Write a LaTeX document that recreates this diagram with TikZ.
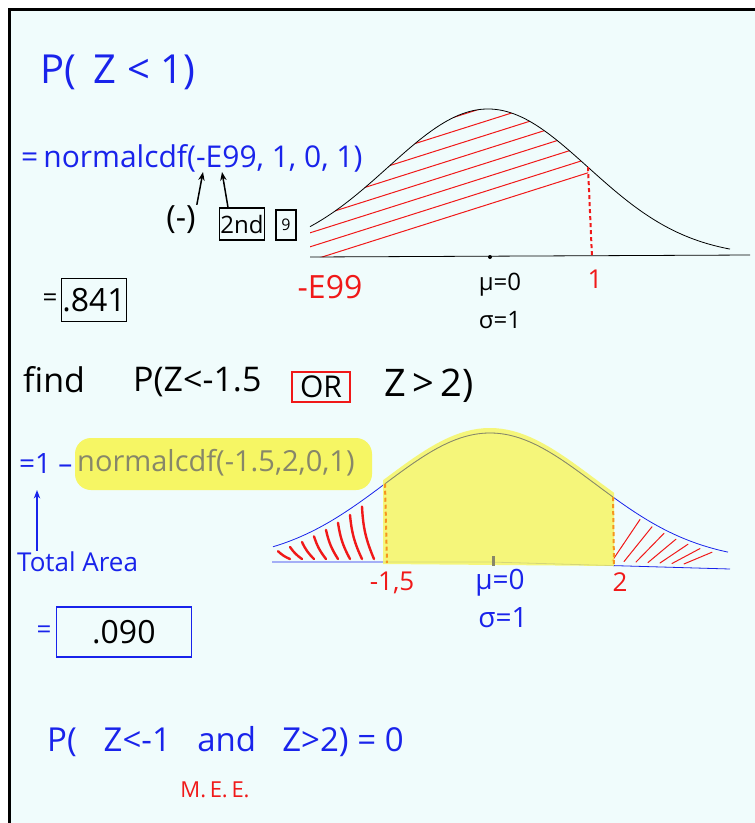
\documentclass[tikz,border=0pt]{standalone}
\usepackage{fontspec}
\setmainfont{Open Sans}
\usetikzlibrary{arrows.meta,positioning}
\definecolor{pen}{RGB}{25,35,235}
\definecolor{redpen}{RGB}{240,25,25}
\definecolor{paper}{RGB}{240,252,252}
\definecolor{marker}{RGB}{246,246,100}
\definecolor{grayink}{RGB}{135,135,105}
\definecolor{orangepen}{RGB}{245,150,30}
\tikzset{
  >={Stealth[length=3mm]},
  hw/.style={inner sep=1pt,font=\fontsize{#1}{#1}\selectfont},
  hw/.default=26,
  key/.style={draw,line width=1.4pt,inner sep=3pt},
  hatch/.style={draw=redpen,line width=#1,line cap=round},
  hatch/.default=1pt,
  cut/.style={draw=#1,line width=2pt,dash pattern=on 4pt off 3pt},
}
% bell curves (pixel units)
\pgfmathdeclarefunction{bellA}{1}{\pgfmathparse{257-148*exp(-((#1-488)/100)*((#1-488)/100)/2)}}
\pgfmathdeclarefunction{bellB}{1}{\pgfmathparse{562-129*exp(-((#1-490)/105)*((#1-490)/105)/2)}}

\begin{document}
\begin{tikzpicture}[x=1pt,y=-1pt]
  \useasboundingbox (0,0) rectangle (755,823);
  \fill[white] (0,0) rectangle (755,823);
  \fill[paper] (9,9) rectangle (755,823);
  \draw[line width=3pt] (9.5,823) -- (9.5,9.5) -- (755,9.5);

  % P(Z<1)
  \node[hw=40,text=pen] (pz) at (118,72) {P(\, Z < 1)};
  \node[hw=30,text=pen,anchor=west] (cdf1) at (20,158) {=\,normalcdf(-E99, 1, 0, 1)};
  \coordinate (negkey) at (203,172);
  \coordinate (ekey) at (222,172);
  \node[hw=32] (neg) at (181,220) {(-)};
  \node[key,hw=24,minimum height=32pt] (second) at (242,224) {2nd};
  \node[key,hw=16,minimum width=20pt,minimum height=30pt] (nine) at (286,225) {9};
  \draw[->,line width=1.5pt] (neg.north east) -- (negkey);
  \draw[->,line width=1.5pt] ([xshift=-14pt]second.north) -- (ekey);
  \node[hw=26] (eq1) at (50,300) {=};
  \node[key,hw=32,minimum height=43pt,right=2pt of eq1] (ans1) {.841};

  \begin{scope}
    \clip (310,257) -- plot[domain=310:588,samples=50] (\x,{bellA(\x)}) -- (588,257) -- cycle;
    \foreach \k in {0,...,17} \draw[hatch] (300,{264-\k*14}) -- (600,{264-\k*14-95});
  \end{scope}
  \draw[thick] plot[domain=310:730,samples=80,smooth] (\x,{bellA(\x)});
  \draw[thick] (310,257) -- (750,255);
  \draw[cut=redpen] (588,{bellA(588)}) -- (592,257);
  \fill (490,257) circle (2pt);
  \node[hw=32,text=redpen] (lo1) at (330,287) {-E99};
  \node[hw=24] (mu1) at (500,285) {μ=0};
  \node[hw=24] (sd1) at (500,320) {σ=1};
  \node[hw=26,text=redpen] (hi1) at (595,279) {1};

  % P(Z<-1.5 OR Z>2)
  \node[hw=34,anchor=west] (find) at (22,380) {find};
  \node[hw=34,anchor=west] (pz2) at (132,382) {P(Z<-1.5};
  \node[draw=redpen,line width=1.5pt,hw=30,inner sep=4pt,minimum width=58pt] (orbox) at (321,387) {OR};
  \node[hw=38,anchor=west] (zz2) at (383,386) {Z\,>\,2)};
  \fill[marker,rounded corners=16pt] (75,438) rectangle (372,490);
  \node[hw=28,text=pen,anchor=west] (one) at (18,463) {=1 –};
  \node[hw=29,text=grayink,anchor=west] (cdf2) at (76,463) {normalcdf(-1.5,2,0,1)};
  \node[hw=26,text=pen,anchor=west] (tot) at (16,562) {Total Area};
  \coordinate (onefoot) at (37,490);
  \draw[->,pen,line width=1.5pt] (tot.north -| onefoot) -- (onefoot);
  \node[hw=26,text=pen] (eq2) at (44,632) {=};
  \node[draw=pen,line width=1.5pt,hw=32,minimum width=135pt,minimum height=50pt,right=3pt of eq2] (ans2) {.090};

  \foreach \x in {278,290,...,370} \draw[hatch=2.4pt] ({\x},{bellB(\x)+6}) to[bend right=10] ({\x+12},559);
  \foreach \x in {640,652,...,712} \draw[hatch] ({\x-28},{560+(\x-613)*0.04}) -- ({\x},{bellB(\x)+4});
  \draw[pen,thick] plot[domain=273:728,samples=80,smooth] (\x,{bellB(\x)});
  \draw[pen,thick] (272,562) -- (490,562) -- (730,569);
  \fill[marker,opacity=0.85] (383,564) -- plot[domain=383:614,samples=40] (\x,{bellB(\x)-5}) -- (614,566) -- cycle;
  \draw[grayink,thick] plot[domain=385:613,samples=40,smooth] (\x,{bellB(\x)});
  \draw[cut=orangepen] (385,{bellB(385)}) -- (387,563);
  \draw[cut=orangepen] (613,{bellB(613)}) -- (614,565);
  \draw[grayink,line width=3pt] (493,556) -- (493,566);
  \node[hw=26,text=redpen] (lo2) at (392,583) {-1,5};
  \node[hw=28,text=pen] (mu2) at (500,583) {μ=0};
  \node[hw=28,text=pen] (sd2) at (503,618) {σ=1};
  \node[hw=26,text=redpen] (hi2) at (620,582) {2};

  % mutually exclusive
  \node[hw=33,text=pen,anchor=west] (pand) at (46,742) {P(\;\; Z<-1 \; and \; Z>2) = 0};
  \node[hw=22,text=redpen] (mee) at (215,790) {M.\,E.\,E.};
\end{tikzpicture}
\end{document}
